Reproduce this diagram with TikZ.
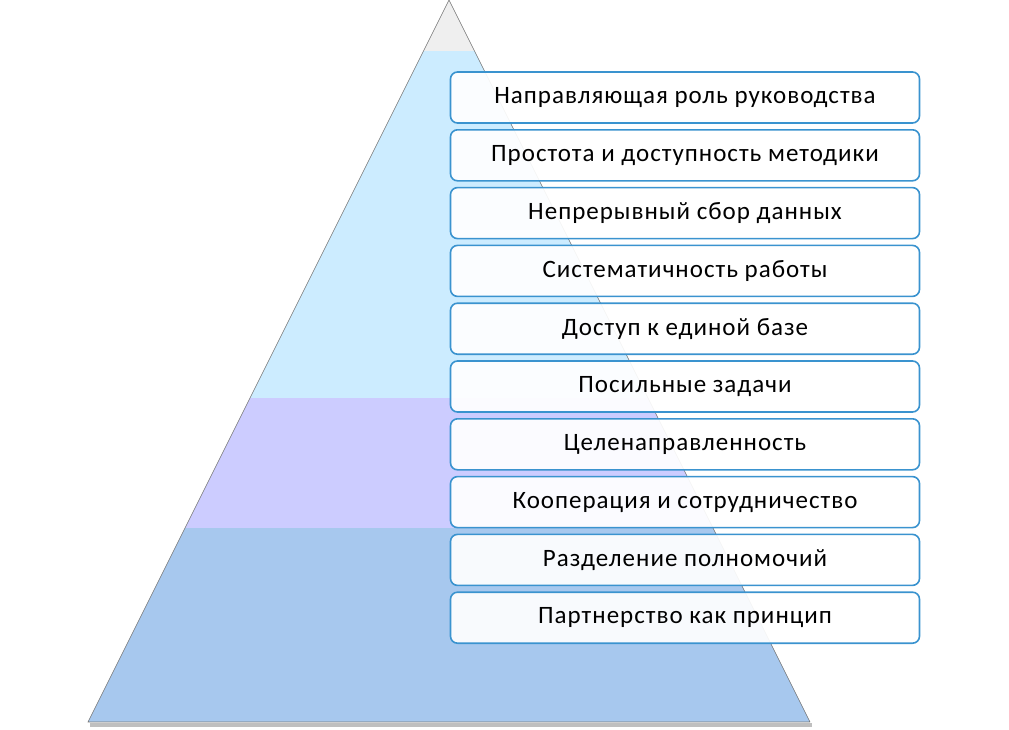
\documentclass[tikz,border=0pt]{standalone}
\usepackage{fontspec}
\setmainfont{Carlito}
\newfontfamily\boxfont[LetterSpace=4]{Carlito}
\usepackage{xcolor}
\usetikzlibrary{positioning}

\definecolor{tipgray}{HTML}{EFEFEF}
\definecolor{skyblue}{HTML}{CCECFF}
\definecolor{lavender}{HTML}{CCCCFF}
\definecolor{baseblue}{HTML}{A7C8EE}
\definecolor{frameblue}{HTML}{3A93CF}

\tikzstyle{principle}=[draw=frameblue, line width=1.6pt, rounded corners=7pt,
  fill=white, fill opacity=0.92, text opacity=1, minimum width=469pt,
  minimum height=51pt, inner sep=0pt, outer sep=0pt,
  font=\boxfont\fontsize{25}{27}\selectfont]

\begin{document}
\begin{tikzpicture}[x=1pt, y=-1pt]
\useasboundingbox (0,0) rectangle (1009,729);

% pyramid corners
\coordinate (apex) at (449,0);
\coordinate (baseL) at (88,722);
\coordinate (baseR) at (810,722);

% shadow under base
\fill [black!25] (90,723) -- (812,723) -- (812,727) -- (90,727) -- cycle;

\begin{scope}
\clip (apex) -- (baseL) -- (baseR) -- cycle;
\fill [tipgray] (0,0) rectangle (1009,51);
\fill [skyblue] (0,51) rectangle (1009,397.5);
\fill [lavender] (0,397.5) rectangle (1009,527.5);
\fill [baseblue] (0,527.5) rectangle (1009,722);
\end{scope}
\draw [black!55, line width=0.6pt] (baseR) -- (apex) -- (baseL) -- (baseR);

% principles, top to bottom
\node [principle] (p1) at (685,97.5) {Направляющая роль руководства};
\node [principle, below=6.8pt of p1] (p2) {Простота и доступность методики};
\node [principle, below=6.8pt of p2] (p3) {Непрерывный сбор данных};
\node [principle, below=6.8pt of p3] (p4) {Систематичность работы};
\node [principle, below=6.8pt of p4] (p5) {Доступ к единой базе};
\node [principle, below=6.8pt of p5] (p6) {Посильные задачи};
\node [principle, below=6.8pt of p6] (p7) {Целенаправленность};
\node [principle, below=6.8pt of p7] (p8) {Кооперация и сотрудничество};
\node [principle, below=6.8pt of p8] (p9) {Разделение полномочий};
\node [principle, below=6.8pt of p9] (p10) {Партнерство как принцип};
\end{tikzpicture}
\end{document}
